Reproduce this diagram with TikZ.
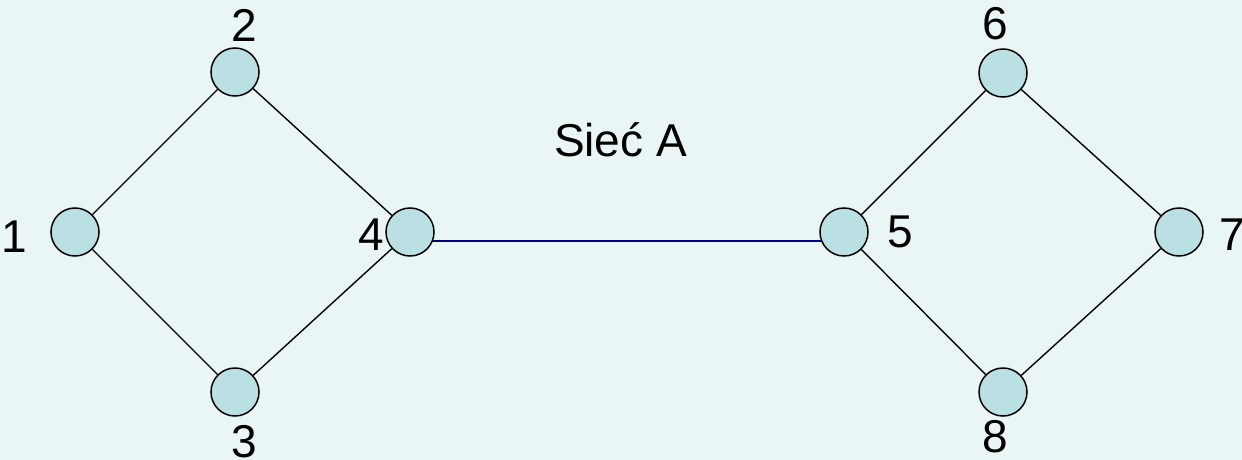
\documentclass[tikz,border=0pt]{standalone}
\usepackage{fontspec}
\setmainfont{Liberation Sans}
\definecolor{bgc}{HTML}{EAF5F5}
\definecolor{nodefill}{HTML}{BBE0E3}
\definecolor{linkblue}{HTML}{000080}
\begin{document}
\begin{tikzpicture}[x=1pt,y=-1pt,
  vert/.style={circle,draw=black,fill=nodefill,line width=1.5pt,minimum size=48pt,inner sep=0pt},
  edge/.style={draw=black,line width=1.4pt},
  bridge/.style={draw=linkblue,line width=1.7pt},
  lbl/.style={inner sep=0pt,anchor=base,font=\fontsize{46}{50}\selectfont}]
\fill[bgc] (0,0) rectangle (1242,460);
\useasboundingbox (0,0) rectangle (1242,460);
\node[vert] (n1) at (75,232) {};
\node[vert] (n2) at (235,72) {};
\node[vert] (n3) at (235,392) {};
\node[vert] (n4) at (410,232) {};
\node[vert] (n5) at (844,232) {};
\node[vert] (n6) at (1003,73) {};
\node[vert] (n7) at (1179,232) {};
\node[vert] (n8) at (1003,392) {};
\path[edge] (n1) -- (n2);
\path[edge] (n2) -- (n4);
\path[edge] (n1) -- (n3);
\path[edge] (n3) -- (n4);
\path[edge] (n5) -- (n6);
\path[edge] (n6) -- (n7);
\path[edge] (n5) -- (n8);
\path[edge] (n8) -- (n7);
\path[bridge] (n4.-22) -- (n5.202);
\node[lbl] (l1) at (14,252) {1};
\node[lbl] (l2) at (244,42) {2};
\node[lbl] (l3) at (244,457) {3};
\node[lbl] (l4) at (371,250) {4};
\node[lbl] (l5) at (900,247) {5};
\node[lbl] (l6) at (995,40) {6};
\node[lbl] (l7) at (1232,250) {7};
\node[lbl] (l8) at (995,452) {8};
\node[lbl] (title) at (620.5,156) {Sieć A};
\end{tikzpicture}
\end{document}
